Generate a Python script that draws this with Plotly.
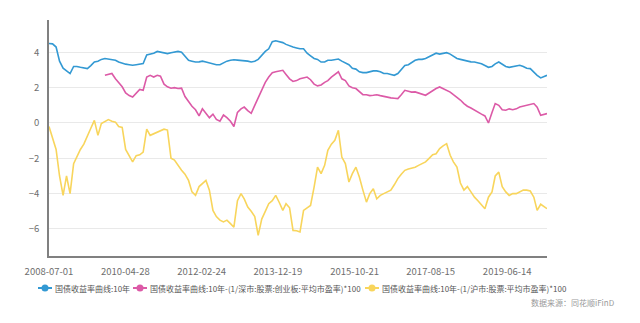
import pandas as pd
import plotly.graph_objects as go

# Monthly observations, 2008-07 .. 2020-05
month_start = "2008-07-01"
n_months = 143
last_obs = "2020-05-26"

tick_dates = ["2008-07-01", "2010-04-28", "2012-02-24", "2013-12-19",
              "2015-10-21", "2017-08-15", "2019-06-14"]

name_yield = "国债收益率曲线:10年"
name_cyb = "国债收益率曲线:10年-(1/深市:股票:创业板:平均市盈率)*100"
name_sh = "国债收益率曲线:10年-(1/沪市:股票:平均市盈率)*100"

yield_10y = [
    4.50, 4.48, 4.30, 3.50, 3.10, 2.95, 2.80, 3.20, 3.20, 3.15, 3.10, 3.08,
    3.25, 3.45, 3.50, 3.60, 3.65, 3.62, 3.58, 3.55, 3.45, 3.38, 3.33, 3.30,
    3.27, 3.30, 3.33, 3.36, 3.85, 3.90, 3.95, 4.05, 4.00, 3.95, 3.93, 3.98,
    4.00, 4.05, 4.00, 3.80, 3.55, 3.50, 3.45, 3.46, 3.50, 3.45, 3.40, 3.36,
    3.30, 3.30, 3.40, 3.50, 3.55, 3.58, 3.56, 3.55, 3.55, 3.50, 3.45, 3.50,
    3.60, 3.84, 4.05, 4.20, 4.60, 4.65, 4.60, 4.55, 4.45, 4.35, 4.30, 4.25,
    4.20, 4.20, 3.95, 3.80, 3.65, 3.60, 3.45, 3.45, 3.55, 3.55, 3.60, 3.62,
    3.50, 3.40, 3.30, 3.10, 3.05, 2.90, 2.85, 2.85, 2.90, 2.95, 2.95, 2.90,
    2.80, 2.80, 2.75, 2.70, 2.80, 3.05, 3.25, 3.30, 3.40, 3.55, 3.60, 3.60,
    3.65, 3.74, 3.85, 3.95, 3.90, 3.95, 3.98, 3.90, 3.80, 3.65, 3.60, 3.55,
    3.50, 3.46, 3.45, 3.40, 3.35, 3.25, 3.15, 3.20, 3.35, 3.45, 3.35, 3.20,
    3.15, 3.20, 3.25, 3.27, 3.20, 3.10, 3.08, 2.85, 2.70, 2.55, 2.70,
]

spread_cyb = [None] * 16 + [
    2.70, 2.75, 2.80, 2.50, 2.30, 2.05, 1.70, 1.55,
    1.47, 1.70, 1.90, 1.85, 2.60, 2.70, 2.60, 2.70, 2.65, 2.20, 2.05, 1.97,
    2.00, 1.95, 1.97, 1.50, 1.20, 0.95, 0.75, 0.40, 0.80, 0.55, 0.30, 0.50,
    0.20, 0.10, 0.45, 0.30, 0.10, -0.20, 0.60, 0.80, 0.90, 0.70, 0.55, 1.00,
    1.45, 1.90, 2.30, 2.60, 2.85, 2.90, 2.95, 2.98, 2.75, 2.50, 2.35, 2.40,
    2.50, 2.55, 2.60, 2.45, 2.20, 2.10, 2.15, 2.30, 2.40, 2.60, 2.75, 2.90,
    2.50, 2.40, 2.10, 2.00, 1.95, 1.80, 1.60, 1.60, 1.55, 1.57, 1.60, 1.55,
    1.50, 1.47, 1.42, 1.40, 1.38, 1.60, 1.85, 1.80, 1.75, 1.76, 1.70, 1.60,
    1.57, 1.70, 1.85, 1.95, 2.04, 1.95, 1.85, 1.75, 1.60, 1.47, 1.30, 1.10,
    0.95, 0.85, 0.72, 0.60, 0.50, 0.40, 0.00, 0.60, 1.10, 1.00, 0.75, 0.72,
    0.80, 0.75, 0.80, 0.90, 0.95, 1.00, 1.05, 1.10, 0.90, 0.43, 0.53,
]

spread_sh = [
    -0.20, -0.80, -1.50, -3.00, -4.10, -3.00, -4.00, -2.30, -1.90, -1.50, -1.20, -0.70,
    -0.30, 0.15, -0.70, -0.03, 0.10, 0.19, 0.10, 0.05, -0.20, -0.25, -1.50, -1.90,
    -2.20, -1.85, -1.80, -1.65, -0.35, -0.70, -0.60, -0.50, -0.45, -0.35, -0.40, -2.00,
    -2.10, -2.40, -2.68, -2.90, -3.25, -3.90, -4.10, -3.60, -3.43, -3.25, -3.80, -4.95,
    -5.30, -5.50, -5.60, -5.50, -5.70, -5.90, -4.40, -4.00, -4.30, -4.76, -5.00, -5.30,
    -6.36, -5.44, -5.00, -4.57, -4.40, -4.10, -4.50, -4.95, -4.57, -4.80, -6.08, -6.10,
    -6.17, -4.95, -4.80, -4.67, -3.63, -2.50, -2.87, -2.40, -1.55, -1.20, -0.98, -0.41,
    -1.93, -2.30, -3.34, -2.87, -2.50, -3.06, -3.80, -4.48, -4.00, -3.72, -4.29, -4.10,
    -4.00, -3.90, -3.80, -3.50, -3.15, -2.90, -2.68, -2.60, -2.55, -2.50, -2.40, -2.30,
    -2.20, -2.00, -1.80, -1.74, -1.45, -1.30, -1.17, -1.83, -2.20, -2.50, -3.40, -3.80,
    -3.60, -3.90, -4.20, -4.40, -4.60, -4.85, -4.20, -3.90, -3.00, -2.78, -3.60, -3.90,
    -4.10, -4.00, -4.00, -3.90, -3.80, -3.80, -3.85, -4.20, -4.95, -4.60, -4.85,
]

dates = list(pd.date_range(month_start, periods=n_months, freq="MS"))
dates[-1] = pd.Timestamp(last_obs)

series = [
    (name_yield, yield_10y, "#3399d3"),
    (name_cyb, spread_cyb, "#dc5aa7"),
    (name_sh, spread_sh, "#f8d55c"),
]

# Figure geometry (pixels) used to place the compact legend row
W, H = 640, 323
ML, MR, MT, MB = 49, 93, 20, 67
PW, PH = W - ML - MR, H - MT - MB


def px_x(px):
    return (px - ML) / PW


def px_y(py):
    return (H - MB - py) / PH


fig = go.Figure()
for name, values, color in series:
    fig.add_trace(go.Scatter(
        x=dates, y=values, mode="lines", name=name, showlegend=False,
        line=dict(color=color, width=1.6), connectgaps=False,
    ))

# Legend row: short line + dot icon followed by the series name
legend_row_y = 288
legend_icon_x = [45, 140, 372]
shapes, annotations = [], []
for (name, _, color), cx in zip(series, legend_icon_x):
    shapes.append(dict(
        type="line", xref="paper", yref="paper",
        x0=px_x(cx - 7), x1=px_x(cx + 7), y0=px_y(legend_row_y), y1=px_y(legend_row_y),
        line=dict(color=color, width=2),
    ))
    shapes.append(dict(
        type="circle", xref="paper", yref="paper",
        x0=px_x(cx - 3.5), x1=px_x(cx + 3.5),
        y0=px_y(legend_row_y + 3.5), y1=px_y(legend_row_y - 3.5),
        fillcolor=color, line=dict(color=color, width=0),
    ))
    annotations.append(dict(
        text=name, xref="paper", yref="paper",
        x=px_x(cx + 8), y=px_y(legend_row_y), xanchor="left", yanchor="middle",
        showarrow=False, font=dict(size=8, color="#555555"),
    ))

annotations.append(dict(
    text="数据来源：同花顺iFinD", xref="paper", yref="paper",
    x=px_x(617), y=px_y(302), xanchor="right", yanchor="middle", showarrow=False,
    font=dict(size=8, color="#9a9a9a"),
))

grey = "#6e6e6e"
fig.update_layout(
    width=W, height=H,
    margin=dict(l=ML, r=MR, t=MT, b=MB, autoexpand=False),
    paper_bgcolor="white", plot_bgcolor="white",
    font=dict(family="Noto Sans CJK SC, Noto Sans, sans-serif", size=9, color=grey),
    showlegend=False,
    xaxis=dict(
        type="date",
        range=["2008-07-01", last_obs],
        tickvals=tick_dates, ticktext=tick_dates,
        showgrid=False, zeroline=False,
        showline=True, linecolor="#808080", linewidth=1.5,
        ticks="", ticklabelstandoff=6,
        tickfont=dict(size=9.5, color=grey),
    ),
    yaxis=dict(
        range=[-7.53, 5.83],
        tickvals=[-6, -4, -2, 0, 2, 4],
        showgrid=True, gridcolor="#e9e9e9", gridwidth=1,
        zeroline=False,
        showline=True, linecolor="#808080", linewidth=1.5,
        ticks="", ticklabelstandoff=6,
        tickfont=dict(size=9.5, color=grey),
    ),
    shapes=shapes,
    annotations=annotations,
)

fig.write_html("out.html")
